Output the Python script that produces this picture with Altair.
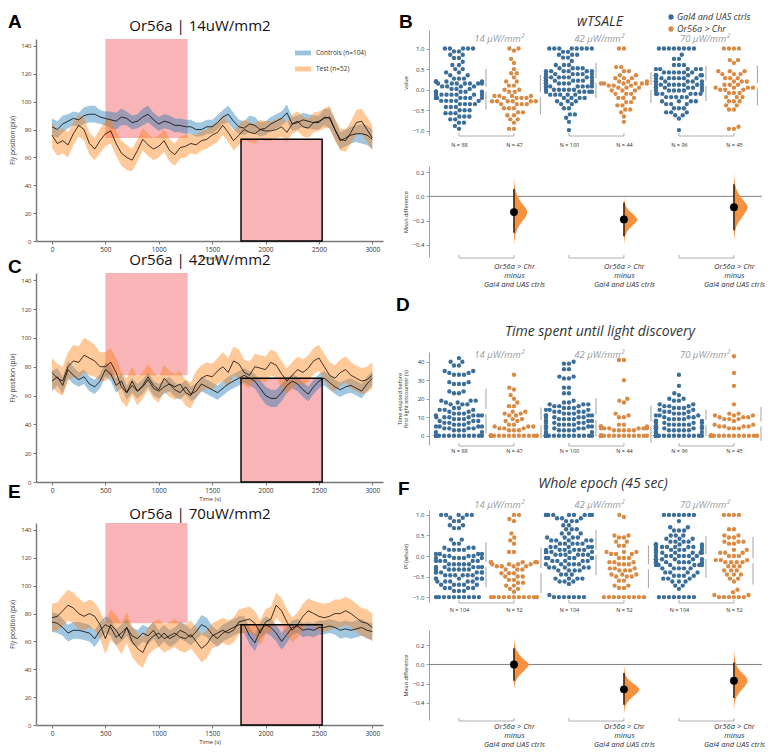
import json
import numpy as np
import pandas as pd
import altair as alt

FONT = "Open Sans"
LETTER_FONT = "Liberation Sans"
TXT = "#333333"
BLUE_BAND = "#1f77b4"
ORANGE_BAND = "#ff7f0e"
LIGHT_PINK = "#f8b4b7"
BLUE = "#3b6e99"
ORANGE = "#d98b45"
VIOLIN = "#f5923f"

# ---------------- time-course panels (A, C, E) ----------------
TIME = list(range(0, 3001, 50))
SERIES = ["Controls (n=104)", "Test (n=52)"]
LIGHT_T0 = [500, 1770]
LIGHT_T1 = [1270, 2530]
A_LIGHT_Y = [[74, 0], [145, 73]]
C_LIGHT_Y = [[74, 0], [145, 72]]
E_LIGHT_Y = [[73, 0], [145, 72]]

A_CTRL = [82, 80, 84, 86, 88, 87, 90, 91, 91, 89,
          88, 87, 86, 89, 88, 85, 86, 89, 91, 87,
          84, 86, 85, 83, 83, 82, 82, 80, 80, 82,
          82, 85, 89, 91, 86, 82, 81, 84, 83, 80,
          81, 84, 86, 88, 92, 84, 85, 87, 86, 85,
          85, 89, 88, 80, 72, 74, 76, 77, 77, 76,
          73]
A_TEST = [76, 70, 72, 69, 77, 83, 80, 70, 66, 72,
          77, 79, 70, 63, 60, 58, 65, 73, 69, 66,
          68, 72, 65, 62, 67, 68, 70, 69, 72, 73,
          76, 78, 83, 78, 72, 76, 80, 78, 77, 80,
          79, 79, 80, 82, 78, 84, 86, 82, 81, 85,
          86, 88, 89, 80, 73, 72, 78, 85, 86, 80,
          74]
A_CTRL_HW = [6, 6, 6, 5, 5, 5, 6, 6, 6, 5,
             5, 6, 6, 6, 5, 5, 5, 6, 6, 5,
             5, 5, 5, 5, 5, 5, 5, 5, 5, 5,
             5, 5, 5, 6, 6, 5, 5, 6, 6, 5,
             5, 5, 5, 5, 6, 5, 5, 5, 5, 5,
             5, 6, 7, 7, 6, 6, 6, 6, 7, 7,
             7]
A_TEST_HW = [9, 9, 9, 9, 8, 8, 8, 8, 8, 9,
             9, 9, 9, 9, 9, 8, 8, 8, 8, 8,
             8, 8, 8, 8, 8, 8, 7, 7, 7, 7,
             7, 7, 7, 7, 7, 7, 7, 7, 7, 7,
             7, 7, 7, 7, 7, 7, 7, 7, 7, 7,
             7, 7, 8, 8, 8, 8, 8, 9, 9, 9,
             9]

C_CTRL = [70, 73, 67, 78, 74, 71, 73, 68, 66, 70,
          78, 75, 67, 70, 62, 67, 63, 66, 71, 65,
          63, 66, 68, 64, 62, 66, 61, 63, 68, 66,
          64, 62, 65, 68, 70, 72, 74, 72, 70, 65,
          60, 58, 58, 62, 67, 70, 68, 64, 61, 66,
          70, 72, 69, 66, 64, 66, 67, 65, 63, 68,
          72]
C_TEST = [76, 72, 70, 80, 84, 83, 88, 86, 84, 80,
          80, 83, 76, 66, 62, 70, 63, 67, 73, 67,
          64, 72, 68, 66, 68, 62, 60, 68, 72, 74,
          73, 77, 80, 76, 84, 82, 76, 74, 80, 79,
          78, 83, 81, 75, 70, 74, 78, 76, 79, 84,
          86, 80, 74, 72, 76, 78, 74, 72, 70, 71,
          74]
C_CTRL_HW = [7, 6, 6, 6, 6, 5, 5, 5, 5, 5,
             5, 5, 5, 5, 5, 5, 5, 5, 5, 5,
             5, 5, 5, 5, 5, 5, 5, 5, 5, 5,
             5, 5, 5, 5, 5, 5, 5, 5, 5, 6,
             6, 6, 6, 6, 5, 5, 5, 5, 5, 5,
             5, 5, 5, 5, 5, 5, 5, 5, 5, 5,
             5]
C_TEST_HW = [10, 10, 10, 10, 11, 11, 12, 12, 11, 10,
             10, 10, 10, 10, 10, 10, 10, 9, 9, 9,
             9, 9, 9, 9, 9, 9, 9, 9, 9, 9,
             9, 9, 10, 10, 10, 10, 9, 9, 9, 9,
             9, 9, 9, 9, 9, 9, 9, 9, 9, 9,
             9, 9, 9, 9, 9, 9, 9, 9, 9, 9,
             9]

E_CTRL = [74, 73, 70, 66, 68, 68, 67, 66, 62, 68,
          72, 70, 63, 66, 70, 64, 62, 66, 64, 68,
          62, 66, 62, 64, 68, 66, 63, 67, 72, 70,
          65, 62, 66, 68, 70, 72, 72, 64, 59, 68,
          72, 70, 66, 60, 65, 70, 71, 68, 69, 68,
          70, 70, 71, 70, 68, 69, 68, 69, 70, 68,
          67]
E_TEST = [77, 78, 82, 86, 84, 80, 78, 80, 78, 72,
          62, 72, 68, 62, 70, 60, 55, 52, 60, 64,
          66, 62, 64, 66, 63, 62, 65, 60, 55, 58,
          64, 66, 68, 66, 68, 74, 75, 76, 73, 66,
          74, 76, 86, 82, 74, 68, 72, 78, 82, 80,
          78, 77, 78, 80, 80, 82, 80, 77, 74, 73,
          70]
E_CTRL_HW = [7, 7, 6, 6, 6, 6, 6, 6, 6, 6,
             6, 6, 6, 6, 6, 6, 6, 6, 6, 6,
             6, 6, 6, 6, 6, 6, 6, 6, 7, 7,
             6, 6, 6, 6, 6, 6, 6, 6, 6, 6,
             6, 6, 6, 6, 6, 5, 5, 5, 5, 5,
             5, 5, 5, 5, 6, 6, 6, 6, 6, 6,
             6]
E_TEST_HW = [10, 10, 11, 11, 11, 11, 10, 10, 10, 10,
             11, 11, 11, 11, 11, 11, 11, 11, 10, 10,
             10, 10, 10, 10, 10, 10, 10, 10, 10, 10,
             9, 9, 9, 9, 9, 9, 9, 9, 9, 9,
             9, 9, 9, 9, 9, 9, 9, 9, 9, 9,
             10, 10, 10, 10, 10, 10, 10, 10, 10, 10,
             10]

for arr in [A_CTRL, A_TEST, A_CTRL_HW, A_TEST_HW, C_CTRL, C_TEST, C_CTRL_HW,
            C_TEST_HW, E_CTRL, E_TEST, E_CTRL_HW, E_TEST_HW]:
    assert len(arr) == len(TIME), len(arr)

# ---------------- estimation plots (B, D, F) ----------------
CATS = ["Gal4 and UAS ctrls", "Or56a > Chr"]
GROUP_LABELS = ["14 \u03bcW/mm\u00b2", "42 \u03bcW/mm\u00b2", "70 \u03bcW/mm\u00b2"]
GROUP_LABEL_X = [0.73, 2.55, 4.47]
DIFF_LABEL = ["Or56a > Chr", "minus", "Gal4 and UAS ctrls"]

# (value, number of flies) read row by row from the swarms
B_N = ["N = 88", "N = 47", "N = 100", "N = 44", "N = 96", "N = 45"]
B_B1 = [(1.0, 5), (0.93, 2), (0.85, 2), (0.77, 2), (0.68, 1), (0.6, 2), (0.5, 2), (0.42, 2),
        (0.35, 2), (0.27, 3), (0.2, 4), (0.15, 7), (0.08, 4), (0.02, 3), (-0.05, 6), (-0.12, 7),
        (-0.2, 7), (-0.27, 5), (-0.35, 4), (-0.42, 3), (-0.5, 3), (-0.57, 3), (-0.65, 3),
        (-0.72, 2), (-0.8, 2), (-0.88, 1), (-0.95, 1)]
B_O1 = [(1.0, 2), (0.95, 1), (0.75, 1), (0.65, 1), (0.5, 1), (0.4, 2), (0.3, 1), (0.2, 2),
        (0.1, 2), (0.0, 2), (-0.05, 2), (-0.15, 4), (-0.2, 4), (-0.28, 6), (-0.35, 4),
        (-0.45, 3), (-0.55, 2), (-0.62, 2), (-0.72, 2), (-0.8, 1), (-0.95, 2)]
B_B2 = [(1.0, 8), (0.92, 2), (0.85, 3), (0.78, 2), (0.7, 1), (0.6, 3), (0.52, 4), (0.45, 6),
        (0.38, 7), (0.3, 9), (0.22, 9), (0.15, 7), (0.08, 7), (0.0, 6), (-0.05, 5), (-0.12, 5),
        (-0.2, 4), (-0.28, 3), (-0.35, 2), (-0.45, 2), (-0.6, 2), (-0.68, 1), (-0.78, 1), (-0.98, 1)]
B_O2 = [(1.0, 2), (0.55, 2), (0.45, 2), (0.35, 2), (0.28, 3), (0.2, 3), (0.15, 6), (0.1, 3),
        (0.05, 3), (-0.02, 3), (-0.1, 3), (-0.2, 3), (-0.3, 2), (-0.38, 2), (-0.48, 2),
        (-0.55, 1), (-0.65, 1), (-0.78, 1)]
B_B3 = [(1.0, 8), (0.85, 1), (0.75, 2), (0.6, 3), (0.5, 5), (0.42, 6), (0.35, 7), (0.28, 7),
        (0.2, 8), (0.12, 8), (0.05, 7), (-0.02, 6), (-0.1, 6), (-0.18, 5), (-0.28, 4),
        (-0.35, 3), (-0.45, 3), (-0.55, 3), (-0.62, 2), (-0.7, 1), (-0.98, 1)]
B_O3 = [(1.0, 4), (0.72, 2), (0.65, 1), (0.45, 3), (0.38, 3), (0.28, 3), (0.2, 3), (0.12, 3),
        (0.05, 4), (0.0, 3), (-0.08, 3), (-0.18, 3), (-0.28, 3), (-0.38, 2), (-0.48, 2),
        (-0.9, 1), (-0.95, 2)]

D_B1 = [(0, 16), (2, 2), (3, 3), (4, 4), (5, 4), (6, 3), (7, 3), (8, 3), (9, 3), (10, 4),
        (11, 4), (12, 3), (13, 2), (14, 3), (15, 2), (17, 3), (18, 2), (19, 3), (23, 2),
        (24, 2), (28, 3), (29, 2), (33, 3), (34, 2), (35, 2), (38, 2), (40, 2), (42, 1)]
D_O1 = [(0, 18), (3, 3), (4, 3), (5, 3), (6, 2), (8, 2), (9, 2), (11, 2), (12, 2), (13, 2),
        (16, 2), (18, 1), (20, 1), (22, 1), (25, 1), (26, 1), (33, 1)]
D_B2 = [(0, 26), (2, 3), (3, 4), (4, 4), (5, 4), (6, 4), (7, 4), (8, 4), (9, 4), (10, 4),
        (11, 4), (12, 3), (13, 4), (14, 3), (15, 3), (16, 3), (17, 3), (18, 2), (19, 1),
        (23, 2), (26, 2), (31, 2), (32, 2), (36, 2), (39, 2), (40, 1)]
D_O2 = [(0, 18), (3, 5), (4, 6), (5, 3), (6, 2), (10, 2), (11, 1), (12, 1), (18, 1), (19, 1),
        (20, 1), (30, 1), (41, 2)]
D_B3 = [(0, 27), (2, 4), (3, 5), (4, 6), (5, 6), (6, 5), (7, 4), (8, 5), (9, 4), (10, 3),
        (11, 3), (12, 3), (13, 3), (14, 2), (15, 3), (16, 3), (17, 2), (19, 2), (20, 2),
        (22, 1), (23, 1), (27, 1), (33, 1)]
D_O3 = [(0, 20), (4, 3), (5, 4), (6, 2), (8, 1), (9, 3), (10, 3), (11, 3), (12, 2),
        (17, 1), (27, 1), (34, 1), (43, 1)]

F_N = ["N = 104", "N = 52", "N = 104", "N = 52", "N = 104", "N = 52"]
F_B1 = [(1.0, 5), (0.93, 2), (0.85, 2), (0.75, 2), (0.68, 2), (0.4, 2), (0.3, 2), (0.2, 3),
        (0.15, 4), (0.05, 4), (0.0, 4), (-0.05, 5), (-0.12, 5), (-0.2, 5), (-0.27, 6),
        (-0.33, 6), (-0.4, 6), (-0.47, 6), (-0.55, 6), (-0.62, 5), (-0.7, 5), (-0.78, 4),
        (-0.85, 3), (-1.0, 10)]
F_O1 = [(1.0, 2), (0.9, 1), (0.85, 1), (0.55, 1), (0.45, 1), (0.38, 1), (0.3, 1), (0.1, 2),
        (-0.15, 5), (-0.2, 4), (-0.25, 4), (-0.33, 3), (-0.42, 3), (-0.5, 3), (-0.58, 2),
        (-0.65, 2), (-0.72, 2), (-0.8, 2), (-0.87, 1), (-1.0, 11)]
F_B2 = [(1.0, 9), (0.92, 3), (0.85, 3), (0.75, 2), (0.65, 3), (0.55, 3), (0.45, 4), (0.38, 5),
        (0.3, 5), (0.22, 5), (0.15, 6), (0.1, 6), (0.03, 6), (-0.05, 6), (-0.12, 5), (-0.2, 5),
        (-0.28, 5), (-0.35, 4), (-0.45, 3), (-0.55, 4), (-0.62, 3), (-0.68, 1), (-0.95, 1),
        (-1.0, 7)]
F_O2 = [(1.0, 1), (0.95, 1), (0.5, 2), (0.45, 2), (0.35, 2), (0.25, 2), (0.1, 3), (0.05, 3),
        (-0.05, 3), (-0.15, 3), (-0.2, 3), (-0.3, 3), (-0.35, 3), (-0.45, 3), (-0.5, 3),
        (-0.6, 2), (-0.72, 2), (-0.78, 2), (-1.0, 9)]
F_B3 = [(1.0, 7), (0.85, 1), (0.7, 2), (0.62, 3), (0.5, 3), (0.42, 3), (0.35, 4), (0.28, 5),
        (0.22, 7), (0.15, 6), (0.08, 6), (0.0, 7), (-0.08, 7), (-0.15, 7), (-0.22, 6),
        (-0.3, 5), (-0.4, 4), (-0.48, 4), (-0.55, 3), (-0.62, 3), (-0.72, 2), (-0.8, 1),
        (-1.0, 8)]
F_O3 = [(1.0, 4), (0.65, 2), (0.5, 2), (0.45, 2), (0.35, 3), (0.3, 2), (0.15, 2), (0.08, 3),
        (0.0, 3), (-0.1, 3), (-0.15, 4), (-0.25, 3), (-0.35, 3), (-0.45, 3), (-0.55, 2),
        (-0.62, 1), (-0.82, 1), (-0.88, 1), (-0.95, 2), (-1.0, 6)]

# mean differences (point estimate and 95% CI) and bootstrap-curve outlines
B_EST = [-0.13, -0.19, -0.09]
B_CI_LO = [-0.30, -0.33, -0.28]
B_CI_HI = [0.06, -0.05, 0.10]
B_VMAX = [0.24, 0.24, 0.25]
B_VY = [[0.17, 0.10, 0.05, 0.00, -0.05, -0.09, -0.13, -0.17, -0.21, -0.26, -0.31, -0.36, -0.40],
        [0.00, -0.05, -0.09, -0.13, -0.16, -0.19, -0.22, -0.25, -0.29, -0.33, -0.37, -0.40],
        [0.21, 0.14, 0.08, 0.03, -0.02, -0.06, -0.09, -0.13, -0.18, -0.23, -0.29, -0.34, -0.38]]
B_VW = [[0.0, 0.04, 0.12, 0.28, 0.55, 0.85, 1.0, 0.88, 0.6, 0.3, 0.12, 0.04, 0.0],
        [0.0, 0.06, 0.2, 0.5, 0.82, 1.0, 0.85, 0.55, 0.25, 0.09, 0.03, 0.0],
        [0.0, 0.04, 0.12, 0.3, 0.6, 0.88, 1.0, 0.85, 0.55, 0.25, 0.09, 0.03, 0.0]]
F_EST = [0.0, -0.26, -0.17]
F_CI_LO = [-0.17, -0.42, -0.35]
F_CI_HI = [0.17, -0.09, 0.02]
F_VMAX = [0.27, 0.28, 0.25]
F_VY = [[0.29, 0.22, 0.16, 0.10, 0.05, 0.02, 0.0, -0.03, -0.07, -0.12, -0.18, -0.23, -0.27],
        [0.0, -0.06, -0.12, -0.17, -0.21, -0.24, -0.26, -0.29, -0.33, -0.38, -0.43, -0.48, -0.51],
        [0.17, 0.09, 0.02, -0.04, -0.09, -0.13, -0.17, -0.21, -0.26, -0.31, -0.37, -0.43, -0.48]]
F_VW = [[0.0, 0.04, 0.14, 0.38, 0.7, 0.92, 1.0, 0.9, 0.65, 0.33, 0.1, 0.03, 0.0],
        [0.0, 0.04, 0.14, 0.38, 0.7, 0.92, 1.0, 0.9, 0.62, 0.3, 0.1, 0.03, 0.0],
        [0.0, 0.04, 0.12, 0.3, 0.6, 0.88, 1.0, 0.88, 0.6, 0.3, 0.1, 0.03, 0.0]]

# ---------------- layout constants ----------------
LW = 347
RW = 333
GROUP_PX = 55.0
XDOM_R = [-0.545, 5.51]


def expand(pairs):
    return [v for v, c in pairs for _ in range(c)]


def beeswarm(vals, ppu, d=5.0, limit=23.0):
    vals = np.asarray(vals, dtype=float)
    order = np.argsort(vals, kind="stable")
    px = np.empty(0)
    py = np.empty(0)
    out = np.zeros(len(vals))
    d2 = d * d
    for i in order:
        y = vals[i] * ppu
        chosen = 0.0
        if len(px):
            dy = np.abs(py - y)
            near = dy < d
            dx = np.sqrt(d2 - dy[near] ** 2)
            cands = np.concatenate([[0.0], px[near] + dx, px[near] - dx])
            cands = cands[np.lexsort((cands, np.abs(cands)))]
            chosen = cands[-1]
            for c in cands:
                if np.all((c - px) ** 2 + (y - py) ** 2 >= d2 - 1e-6):
                    chosen = c
                    break
        chosen = float(np.clip(chosen, -limit, limit))
        px = np.append(px, chosen)
        py = np.append(py, y)
        out[i] = chosen
    return out


def one(text):
    return pd.DataFrame({"t": [text]})


def letter_mark(letter, x, y):
    return alt.Chart(one(letter)).mark_text(
        font=LETTER_FONT, fontSize=19, fontWeight="bold", align="left", baseline="top", color="black"
    ).encode(text="t:N", x=alt.value(x), y=alt.value(y))


def anchor(y):
    """Invisible point that reserves headroom above the top texts."""
    return alt.Chart(pd.DataFrame({"a": [0]})).mark_point(opacity=0, size=1).encode(
        x=alt.value(0), y=alt.value(y))


def spacer(w, h):
    return alt.Chart(pd.DataFrame({"a": [0]})).mark_point(opacity=0, size=1).encode(
        x=alt.value(w / 2), y=alt.value(h / 2)).properties(width=w, height=h)


def line_panel(ctrl, test, ctrl_hw, test_hw, light_y, title, title_y, letter, letter_y, height, legend):
    rows = []
    for lab, m, hw in ((SERIES[0], ctrl, ctrl_hw), (SERIES[1], test, test_hw)):
        for t, v, h in zip(TIME, m, hw):
            rows.append(dict(time=t, series=lab, mean=v, lo=v - h, hi=v + h))
    df = pd.DataFrame(rows)
    ldf = pd.DataFrame(dict(t0=LIGHT_T0, t1=LIGHT_T1, y0=light_y[0], y1=light_y[1]))

    xs = alt.Scale(domain=[-150, 3100], nice=False, zero=False)
    ys = alt.Scale(domain=[0, 145], nice=False, zero=False)
    xax = alt.Axis(values=list(range(0, 3001, 500)), format="d", title="Time (s)", grid=False,
                   domainColor="#777", domainWidth=1.4, tickColor="#777", tickSize=3,
                   labelFontSize=6.5, titleFontSize=6, titleFontWeight="normal",
                   titlePadding=2, labelColor=TXT, titleColor=TXT, labelFlush=False,
                   labelOverlap=False)
    yax = alt.Axis(values=list(range(0, 141, 20)), format="d", title="Fly position (pix)",
                   grid=False, domainColor="#777", domainWidth=1.4, tickColor="#777", tickSize=3,
                   labelFontSize=6, titleFontSize=6.5, titleFontWeight="normal",
                   minExtent=17, maxExtent=17, titlePadding=4, labelColor=TXT, titleColor=TXT)

    def X(f, **k):
        return alt.X(f, scale=xs, axis=xax, **k)

    def Y(f, **k):
        return alt.Y(f, scale=ys, axis=yax, **k)

    rects = alt.Chart(ldf).mark_rect(color=LIGHT_PINK).encode(
        x=X("t0:Q"), x2="t1:Q", y=Y("y0:Q"), y2="y1:Q")
    box = alt.Chart(ldf.iloc[[1]]).mark_rect(fillOpacity=0, stroke="black", strokeWidth=1.4).encode(
        x=X("t0:Q"), x2="t1:Q", y=Y("y0:Q"), y2="y1:Q")
    if legend:
        leg = alt.Legend(orient="none", legendX=259, legendY=6, title=None,
                         symbolType="M-1,-0.3L1,-0.3L1,0.3L-1,0.3Z", symbolSize=256,
                         symbolOpacity=0.45, symbolStrokeWidth=0, labelFontSize=6.5,
                         labelColor=TXT, rowPadding=4, padding=0, labelOffset=5)
    else:
        leg = None
    band = alt.Chart(df).mark_area(opacity=0.42).encode(
        x=X("time:Q"), y=Y("lo:Q", stack=None), y2="hi:Q",
        color=alt.Color("series:N", scale=alt.Scale(domain=SERIES, range=[BLUE_BAND, ORANGE_BAND]),
                        legend=leg))
    line = alt.Chart(df).mark_line(color="black", strokeWidth=0.9, opacity=0.85).encode(
        x=X("time:Q"), y=Y("mean:Q"), detail="series:N")
    ttl = alt.Chart(one(title)).mark_text(fontSize=15, color="#111", align="center",
                                          baseline="middle").encode(
        text="t:N", x=alt.value(164), y=alt.value(title_y))
    return alt.layer(rects, band, box, line, ttl, letter_mark(letter, -28, letter_y)).properties(
        width=LW, height=height)


def right_yaxis(values, fmt, title):
    return alt.Axis(values=values, format=fmt, title=title, grid=False, domainColor="#a0a0a0",
                    tickColor="#a0a0a0", tickSize=3, labelFontSize=6, titleFontSize=5.5,
                    titleFontWeight="normal", titleLineHeight=6, minExtent=18, maxExtent=18,
                    titlePadding=3, labelColor=TXT, titleColor=TXT)


def bracket_layers(X, h, starts, ends, color="#9a9a9a"):
    bdf = pd.DataFrame(dict(x0=starts, x1=ends))
    edf = pd.DataFrame(dict(x=list(starts) + list(ends)))
    line = alt.Chart(bdf).mark_rule(color=color, strokeWidth=0.8).encode(
        x=X("x0:Q"), x2="x1:Q", y=alt.value(h + 1))
    ends_ = alt.Chart(edf).mark_rule(color=color, strokeWidth=0.8).encode(
        x=X("x:Q"), y=alt.value(h + 1), y2=alt.value(h - 2))
    return [line, ends_]


def swarm_panel(groups, ppu, ydom, h, yvals, yfmt, ytitle, nlabels, nlab_pad, label_y,
                title, title_x, title_y, letter, letter_xy, gap_px, key=None, top=None):
    rows, sd_rows = [], []
    for g, pairs in enumerate(groups):
        vals = expand(pairs)
        offs = beeswarm(vals, ppu)
        for v, o in zip(vals, offs):
            rows.append(dict(x=g + o / GROUP_PX, value=v, cat=CATS[g % 2]))
        m = float(np.mean(vals))
        s = float(np.std(vals, ddof=1))
        lx = g + min(offs.max() + 4.5, 27.0) / GROUP_PX
        gap = gap_px / ppu
        sd_rows.append(dict(x=lx, y1=m - s, y2=m - gap))
        sd_rows.append(dict(x=lx, y1=m + gap, y2=m + s))
    df = pd.DataFrame(rows)
    sdf = pd.DataFrame(sd_rows)
    xs = alt.Scale(domain=XDOM_R, nice=False, zero=False)
    xax = alt.Axis(values=list(range(6)), labelExpr=json.dumps(nlabels) + "[datum.value]",
                   domain=False, ticks=False, tickSize=0, grid=False, title=None,
                   labelFontSize=5.5, labelPadding=nlab_pad, labelColor=TXT,
                   labelOverlap=False, labelFlush=False)
    ys = alt.Scale(domain=ydom, nice=False, zero=False)
    yax = right_yaxis(yvals, yfmt, ytitle)

    def X(f, **k):
        return alt.X(f, scale=xs, axis=xax, **k)

    def Y(f, **k):
        return alt.Y(f, scale=ys, axis=yax, **k)

    pts = alt.Chart(df).mark_circle(size=19, opacity=1).encode(
        x=X("x:Q"), y=Y("value:Q"),
        color=alt.Color("cat:N", scale=alt.Scale(domain=CATS, range=[BLUE, ORANGE]), legend=None))
    sd = alt.Chart(sdf).mark_rule(color="#aaaaaa", strokeWidth=1.1).encode(
        x=X("x:Q"), y=Y("y1:Q"), y2="y2:Q")
    gdf = pd.DataFrame(dict(x=GROUP_LABEL_X, y=[label_y] * 3, t=GROUP_LABELS))
    glab = alt.Chart(gdf).mark_text(fontSize=9.5, fontStyle="italic", color="#9a9a9a").encode(
        x=X("x:Q"), y=Y("y:Q"), text="t:N")
    ttl = alt.Chart(one(title)).mark_text(fontSize=14, fontStyle="italic", color=TXT,
                                          align="center", baseline="middle").encode(
        text="t:N", x=alt.value(title_x), y=alt.value(title_y))
    layers = [sd, pts, glab, ttl, letter_mark(letter, *letter_xy)]
    layers += bracket_layers(X, h, [0, 2, 4], [1, 3, 5])
    if top is not None:
        layers.append(anchor(top))
    if key is not None:
        kx, ky = key
        for i, cat in enumerate(CATS):
            one_df = pd.DataFrame(dict(cat=[cat]))
            layers.append(alt.Chart(one_df).mark_circle(size=28, opacity=1,
                                                        color=[BLUE, ORANGE][i]).encode(
                x=alt.value(kx), y=alt.value(ky[i])))
            layers.append(alt.Chart(one_df).mark_text(align="left", baseline="middle", fontSize=9,
                                                      fontStyle="italic", color=TXT).encode(
                x=alt.value(kx + 6), y=alt.value(ky[i]), text="cat:N"))
    return alt.layer(*layers).properties(width=RW, height=h)


def diff_panel(est, lo, hi, vys, vws, vmax, ydom, h, lab_pad):
    pos = [1, 3, 5]
    vrows = []
    for k in range(3):
        for y, w in zip(vys[k], vws[k]):
            vrows.append(dict(vid=k, y=y, xv=pos[k] + w * vmax[k], x0=pos[k]))
    vdf = pd.DataFrame(vrows)
    edf = pd.DataFrame(dict(pos=pos, est=est, lo=lo, hi=hi))
    xs = alt.Scale(domain=XDOM_R, nice=False, zero=False)
    xax = alt.Axis(values=pos, labelExpr=json.dumps(DIFF_LABEL), domain=False, ticks=False,
                   tickSize=0, grid=False, title=None, labelFontSize=7.5, labelFontStyle="italic",
                   labelLineHeight=9, labelPadding=lab_pad, labelColor=TXT,
                   labelOverlap=False, labelFlush=False)
    ys = alt.Scale(domain=ydom, nice=False, zero=False)
    yax = right_yaxis([-0.4, -0.2, 0.0, 0.2], ".1f", "Mean difference")

    def X(f, **k):
        return alt.X(f, scale=xs, axis=xax, **k)

    def Y(f, **k):
        return alt.Y(f, scale=ys, axis=yax, **k)

    zero = alt.Chart(pd.DataFrame({"z": [0.0]})).mark_rule(color="#808080", strokeWidth=1).encode(
        y=Y("z:Q"))
    violin = alt.Chart(vdf).mark_area(orient="horizontal", interpolate="monotone", color=VIOLIN,
                                      opacity=1).encode(
        y=Y("y:Q"), x=X("xv:Q", stack=None), x2="x0:Q", detail="vid:N")
    ci = alt.Chart(edf).mark_rule(color="black", strokeWidth=1.3).encode(
        x=X("pos:Q"), y=Y("lo:Q"), y2="hi:Q")
    dot = alt.Chart(edf).mark_circle(color="black", size=62, opacity=1).encode(
        x=X("pos:Q"), y=Y("est:Q"))
    layers = [zero, violin, ci, dot] + bracket_layers(X, h, [0, 2, 4], [1, 3, 5])
    return alt.layer(*layers).properties(width=RW, height=h)


# ---------------- assemble ----------------
panel_a = line_panel(A_CTRL, A_TEST, A_CTRL_HW, A_TEST_HW, A_LIGHT_Y, "Or56a | 14uW/mm2", -13,
                     "A", -26, 202, True)
panel_c = line_panel(C_CTRL, C_TEST, C_CTRL_HW, C_TEST_HW, C_LIGHT_Y, "Or56a | 42uW/mm2", -13,
                     "C", -15, 209, False)
panel_e = line_panel(E_CTRL, E_TEST, E_CTRL_HW, E_TEST_HW, E_LIGHT_Y, "Or56a | 70uW/mm2", -9,
                     "E", -40, 202, False)

left = alt.vconcat(spacer(LW, 9), panel_a, spacer(LW, 32), panel_c, spacer(LW, 41), panel_e,
                   spacing=0, bounds="flush").resolve_scale(color="independent")

b_swarm = swarm_panel([B_B1, B_O1, B_B2, B_O2, B_B3, B_O3], 41.2, [-1.1, 1.45], 105,
                      [-1.0, -0.5, 0.0, 0.5, 1.0], ".1f", "value", B_N, 7, 1.23,
                      "wTSALE", 171, -8, "B", (-30, -17), 2.5, key=(242, [-13, -1]), top=-21)
b_diff = diff_panel(B_EST, B_CI_LO, B_CI_HI, B_VY, B_VW, B_VMAX, [-0.5, 0.25], 91, 5)
d_swarm = swarm_panel([D_B1, D_O1, D_B2, D_O2, D_B3, D_O3], 1.849, [-5, 45.3], 93,
                      [0, 10, 20, 30, 40], "d",
                      ["Time elapsed before", "first light encounter (s)"], B_N, 3, 43.7,
                      "Time spent until light discovery", 171, -20, "D", (-33, -56), 2.5)
f_swarm = swarm_panel([F_B1, F_O1, F_B2, F_O2, F_B3, F_O3], 41.07, [-1.12, 1.12], 92,
                      [-1.0, -0.5, 0.0, 0.5, 1.0], ".1f", "PI (whole)", F_N, 5, 1.24,
                      "Whole epoch (45 sec)", 174, -26, "F", (-31, -30), 2.5)
f_diff = diff_panel(F_EST, F_CI_LO, F_CI_HI, F_VY, F_VW, F_VMAX, [-0.58, 0.36], 90, 2)

right = alt.vconcat(b_swarm, spacer(RW, 31), b_diff, spacer(RW, 95), d_swarm, spacer(RW, 65),
                    f_swarm, spacer(RW, 28), f_diff,
                    spacing=0, bounds="flush").resolve_scale(color="independent")

chart = alt.hconcat(left, right, spacing=13).resolve_scale(color="independent").properties(
    padding=0
).configure(font=FONT).configure_view(stroke=None).configure_axis(
    labelFont=FONT, titleFont=FONT
).configure_legend(labelFont=FONT).configure_text(font=FONT)

chart.save("out.html", embed_options={"renderer": "svg", "actions": False})
